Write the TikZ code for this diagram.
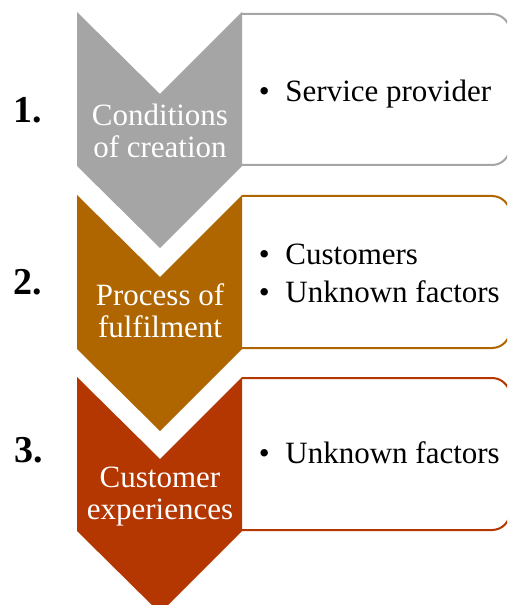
\documentclass[tikz,border=0pt]{standalone}
\usepackage{fontspec}
\setmainfont{Liberation Serif}
\definecolor{chevgray}{HTML}{A5A5A5}
\definecolor{chevbrown}{HTML}{AF6600}
\definecolor{chevred}{HTML}{B43600}
\newcommand{\bul}{\makebox[20pt][l]{\textbullet}}

\begin{document}
\begin{tikzpicture}[x=0.75pt,y=-0.75pt,
    stage/.style={text=white,align=center,inner sep=0pt,font=\fontsize{23.25}{24}\selectfont},
    item/.style={anchor=west,inner sep=0pt,align=left,font=\fontsize{23.25}{28.5}\selectfont},
    num/.style={anchor=base,inner sep=0pt,font=\fontsize{28.5}{30}\selectfont\bfseries},
    box/.style={line width=1.5pt,rounded corners=13.5pt}]
  \clip (0,0) rectangle (507,605);
  % boxes
  \draw[box,chevgray] (242,14) -- (510,14) -- (510,165) -- (242,165);
  \draw[box,chevbrown] (242,196) -- (510,196) -- (510,348) -- (242,348);
  \draw[box,chevred] (242,378) -- (510,378) -- (510,530) -- (242,530);
  % chevrons
  \fill[chevgray] (77,12) -- (160,94) -- (242,12) -- (242,166) -- (160,248) -- (77,166) -- cycle;
  \fill[chevbrown] (77,195) -- (160,277) -- (242,195) -- (242,349) -- (160,431) -- (77,349) -- cycle;
  \fill[chevred] (77,377) -- (160,459) -- (242,377) -- (242,531) -- (160,613) -- (77,531) -- cycle;
  % texts
  \node[stage] (cond) at (160,130.5) {Conditions\\of creation};
  \node[stage] (proc) at (160,311) {Process of\\fulfilment};
  \node[stage] (exp) at (160,496.5) {Customer\\experiences};
  \node[item,anchor=base west] (prov) at (258.5,102) {\bul Service provider};
  \node[item] (cust) at (258.5,273.5) {\bul Customers\\\bul Unknown factors};
  \node[item,anchor=base west] (unk) at (258.5,463) {\bul Unknown factors};
  \node[num] (n1) at (28,123) {1.};
  \node[num] (n2) at (28,295) {2.};
  \node[num] (n3) at (29,462) {3.};
\end{tikzpicture}
\end{document}
